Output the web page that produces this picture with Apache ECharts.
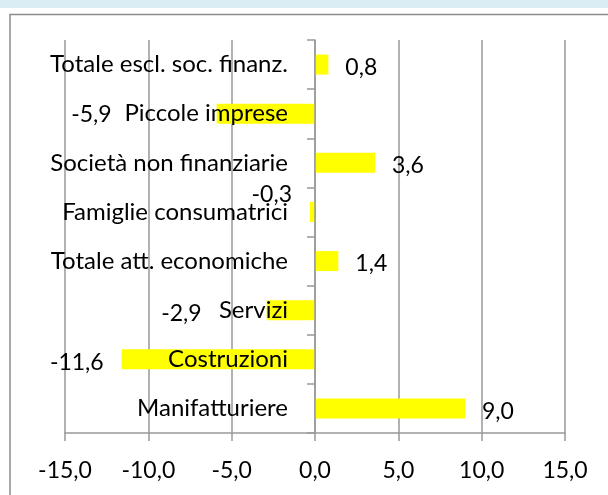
<!DOCTYPE html>
<html>
<head>
<meta charset="utf-8">
<script src="https://cdn.jsdelivr.net/npm/echarts@6/dist/echarts.min.js"></script>
<style>
  html, body { margin: 0; padding: 0; background: #ffffff; }
  #chart { width: 608px; height: 495px; }
</style>
</head>
<body>
<div id="chart"></div>
<script>
// Categories, listed bottom to top as drawn on the vertical axis
const categories = [
  'Manifatturiere',
  'Costruzioni',
  'Servizi',
  'Totale att. economiche',
  'Famiglie consumatrici',
  'Società non finanziarie',
  'Piccole imprese',
  'Totale escl. soc. finanz.'
];

// Percentage change per category
const values = [9.0, -11.6, -2.9, 1.4, -0.3, 3.6, -5.9, 0.8];

// Value axis ticks
const xTicks = [-15, -10, -5, 0, 5, 10, 15];

const FONT = 'Lato';
const FONT_SIZE = 23;

// Plot area edges in pixels
const PLOT_LEFT = 65;
const PLOT_RIGHT = 565;

// Italian-style number format with one decimal
function fmt(v) {
  return v.toFixed(1).replace('.', ',');
}

// Hand-placed value labels for the negative bars (distance from bar end, vertical nudge)
const negLabelPlace = {
  'Costruzioni': { distance: 18, dy: 3 },
  'Servizi': { distance: 65, dy: 3 },
  'Famiglie consumatrici': { distance: 18, dy: -17 },
  'Piccole imprese': { distance: 105, dy: 1 }
};

const barData = values.map(function (v, i) {
  const cat = categories[i];
  let label;
  if (v >= 0) {
    label = { position: 'right', distance: 17, offset: [0, 3] };
  } else {
    const p = negLabelPlace[cat] || { distance: 17, dy: 3 };
    label = { position: 'left', distance: p.distance, offset: [0, p.dy] };
  }
  return { value: v, label: label };
});

// Shift the category axis from the left edge to the zero line of the value axis
const xMin = xTicks[0];
const xMax = xTicks[xTicks.length - 1];
const zeroShift = (0 - xMin) / (xMax - xMin) * (PLOT_RIGHT - PLOT_LEFT);

const chart = echarts.init(document.getElementById('chart'), null, { renderer: 'canvas' });

chart.setOption({
  animation: false,
  backgroundColor: '#ffffff',
  textStyle: { fontFamily: FONT },
  graphic: [
    {
      type: 'rect',
      z: -10,
      shape: { x: 0, y: 0, width: 608, height: 8 },
      style: { fill: '#dbedf4' }
    },
    {
      type: 'rect',
      z: -10,
      shape: { x: 10, y: 14.5, width: 640, height: 520 },
      style: { fill: 'none', stroke: '#8c8c8c', lineWidth: 1.5 }
    }
  ],
  grid: {
    left: PLOT_LEFT, right: 608 - PLOT_RIGHT, top: 40, bottom: 62,
    containLabel: false,
    outerBoundsMode: 'none'
  },
  xAxis: {
    type: 'value',
    min: xMin,
    max: xMax,
    interval: 5,
    axisLine: { show: true, lineStyle: { color: '#999999', width: 1.5 } },
    axisTick: { show: true, length: 8, lineStyle: { color: '#999999', width: 1.5 } },
    splitLine: { show: true, lineStyle: { color: '#999999', width: 1.5 } },
    axisLabel: {
      color: '#000000',
      fontFamily: FONT,
      fontSize: FONT_SIZE,
      margin: 26,
      formatter: function (v) { return fmt(v); }
    }
  },
  yAxis: {
    type: 'category',
    data: categories,
    position: 'left',
    offset: -zeroShift,
    z: 5,
    axisLine: { show: true, onZero: false, lineStyle: { color: '#999999', width: 1.5 } },
    axisTick: { show: true, length: 8, lineStyle: { color: '#999999', width: 1.5 } },
    splitLine: { show: false },
    axisLabel: {
      color: '#000000',
      fontFamily: FONT,
      fontSize: 24,
      margin: 27,
      padding: [4, 0, 0, 0]
    }
  },
  series: [
    {
      type: 'bar',
      data: barData,
      barWidth: 20,
      itemStyle: { color: '#ffff00' },
      label: {
        show: true,
        color: '#000000',
        fontFamily: FONT,
        fontSize: FONT_SIZE,
        formatter: function (p) { return fmt(p.value); }
      }
    }
  ]
});
</script>
</body>
</html>
